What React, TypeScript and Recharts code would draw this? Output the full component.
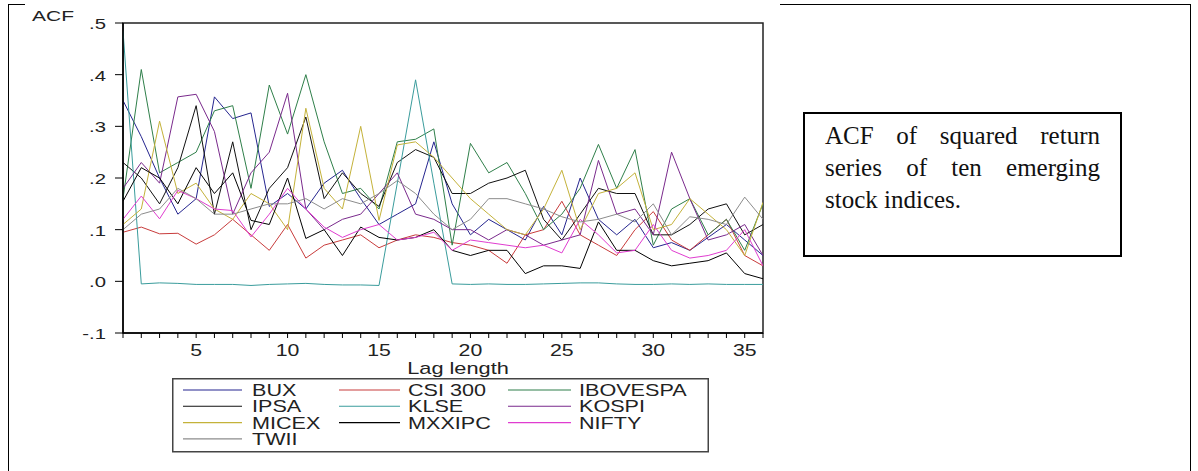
import React from "react";
import { LineChart, Line, XAxis, YAxis, ReferenceArea, Legend } from "recharts";

const lags = [
  1, 2, 3, 4, 5, 6, 7, 8, 9, 10, 11, 12, 13, 14, 15, 16, 17, 18,
  19, 20, 21, 22, 23, 24, 25, 26, 27, 28, 29, 30, 31, 32, 33, 34, 35, 36,
];
const yTicks = [-0.1, 0, 0.1, 0.2, 0.3, 0.4, 0.5];

const seriesNames = [
  "BUX", "CSI 300", "IBOVESPA", "IPSA", "KLSE",
  "KOSPI", "MICEX", "MXXIPC", "NIFTY", "TWII",
];
const seriesColors = [
  "#25258f", "#c83c3c", "#2f7f4a", "#111111", "#3a9c9c",
  "#7a2a8c", "#c4b23a", "#000000", "#e03cd0", "#8c8c8c",
];

const bux = [0.35, 0.28, 0.2, 0.13, 0.16, 0.357, 0.315, 0.326, 0.145, 0.17, 0.14, 0.19, 0.215, 0.16, 0.11, 0.13, 0.15, 0.27, 0.15, 0.09, 0.12, 0.1, 0.08, 0.145, 0.09, 0.2, 0.12, 0.09, 0.12, 0.065, 0.075, 0.06, 0.085, 0.11, 0.08, 0.05];
const csi300 = [0.095, 0.105, 0.092, 0.093, 0.072, 0.09, 0.12, 0.09, 0.06, 0.11, 0.045, 0.07, 0.08, 0.09, 0.065, 0.08, 0.09, 0.085, 0.075, 0.07, 0.06, 0.035, 0.09, 0.1, 0.155, 0.09, 0.07, 0.05, 0.1, 0.135, 0.08, 0.06, 0.09, 0.12, 0.05, 0.03];
const ibovespa = [0.16, 0.41, 0.21, 0.23, 0.25, 0.33, 0.34, 0.18, 0.38, 0.285, 0.4, 0.27, 0.17, 0.18, 0.14, 0.27, 0.275, 0.295, 0.07, 0.267, 0.21, 0.23, 0.17, 0.1, 0.13, 0.18, 0.265, 0.18, 0.255, 0.07, 0.14, 0.16, 0.09, 0.12, 0.06, 0.15];
const ipsa = [0.23, 0.2, 0.15, 0.22, 0.34, 0.13, 0.27, 0.1, 0.18, 0.22, 0.318, 0.16, 0.21, 0.17, 0.145, 0.23, 0.255, 0.24, 0.17, 0.17, 0.19, 0.2, 0.215, 0.12, 0.08, 0.13, 0.18, 0.17, 0.17, 0.09, 0.09, 0.11, 0.14, 0.15, 0.09, 0.11];
const klse = [0.485, -0.005, -0.003, -0.004, -0.006, -0.006, -0.006, -0.008, -0.006, -0.005, -0.004, -0.006, -0.007, -0.007, -0.008, 0.19, 0.39, 0.19, -0.005, -0.006, -0.005, -0.006, -0.006, -0.005, -0.004, -0.003, -0.003, -0.005, -0.006, -0.006, -0.005, -0.006, -0.005, -0.006, -0.006, -0.006];
const kospi = [0.18, 0.23, 0.19, 0.357, 0.362, 0.29, 0.13, 0.21, 0.25, 0.364, 0.14, 0.1, 0.12, 0.13, 0.17, 0.21, 0.13, 0.12, 0.1, 0.1, 0.08, 0.1, 0.09, 0.07, 0.08, 0.09, 0.234, 0.13, 0.14, 0.09, 0.25, 0.16, 0.08, 0.09, 0.11, 0.05];
const micex = [0.11, 0.14, 0.31, 0.17, 0.19, 0.14, 0.12, 0.17, 0.15, 0.1, 0.335, 0.18, 0.14, 0.3, 0.118, 0.264, 0.27, 0.24, 0.2, 0.16, 0.13, 0.1, 0.09, 0.14, 0.215, 0.1, 0.17, 0.18, 0.21, 0.1, 0.11, 0.16, 0.13, 0.1, 0.05, 0.153];
const mxxipc = [0.155, 0.22, 0.2, 0.15, 0.22, 0.17, 0.21, 0.118, 0.11, 0.2, 0.083, 0.1, 0.05, 0.105, 0.085, 0.08, 0.085, 0.1, 0.06, 0.05, 0.06, 0.06, 0.015, 0.03, 0.03, 0.025, 0.115, 0.06, 0.06, 0.04, 0.03, 0.035, 0.04, 0.055, 0.015, 0.005];
const nifty = [0.12, 0.165, 0.121, 0.176, 0.16, 0.14, 0.137, 0.086, 0.13, 0.18, 0.14, 0.105, 0.085, 0.1, 0.11, 0.08, 0.085, 0.095, 0.06, 0.08, 0.075, 0.07, 0.065, 0.07, 0.055, 0.12, 0.09, 0.055, 0.06, 0.11, 0.06, 0.045, 0.05, 0.06, 0.1, 0.03];
const twii = [0.1, 0.13, 0.14, 0.18, 0.16, 0.13, 0.13, 0.14, 0.15, 0.15, 0.16, 0.14, 0.16, 0.15, 0.17, 0.195, 0.17, 0.13, 0.1, 0.12, 0.16, 0.16, 0.15, 0.14, 0.125, 0.115, 0.12, 0.13, 0.115, 0.15, 0.09, 0.125, 0.12, 0.11, 0.163, 0.12];

const seriesValues = [bux, csi300, ibovespa, ipsa, klse, kospi, micex, mxxipc, nifty, twii];

const data = lags.map((lag, i) => {
  const row: Record<string, number> = { lag };
  seriesNames.forEach((name, s) => {
    row[name] = seriesValues[s][i];
  });
  return row;
});

const SANS = "'Liberation Sans', Arial, sans-serif";
const SERIF = "'Liberation Serif', 'Times New Roman', serif";
const TXT = "#222";

function fmtY(v: number) {
  return v.toFixed(1).replace("0.", ".");
}

function XTick(props: any) {
  const { x, y, payload } = props;
  if (payload.value % 5 !== 0) return null;
  return (
    <text
      transform={`translate(${x},${y + 16}) scale(1.33,1)`}
      textAnchor="middle"
      fontSize={16}
      fontFamily={SANS}
      fill={TXT}
    >
      {payload.value}
    </text>
  );
}

function YTick(props: any) {
  const { x, y, payload } = props;
  return (
    <text
      transform={`translate(${x - 7},${y + 6}) scale(1.45,1)`}
      textAnchor="end"
      fontSize={14}
      fontFamily={SANS}
      fill={TXT}
    >
      {fmtY(payload.value)}
    </text>
  );
}

function XLabel(props: any) {
  const vb = props.viewBox;
  return (
    <text
      transform={`translate(${vb.x + vb.width / 2 + 15},${vb.y + 41}) scale(1.36,1)`}
      textAnchor="middle"
      fontSize={16}
      fontFamily={SANS}
      fill={TXT}
    >
      Lag length
    </text>
  );
}

function YLabel(props: any) {
  const vb = props.viewBox;
  return (
    <text
      transform={`translate(${vb.x + 32},${vb.y - 2}) scale(1.5,1)`}
      fontSize={14}
      fontFamily={SANS}
      fill={TXT}
    >
      ACF
    </text>
  );
}

function LegendBox(props: any) {
  const payload = [...(props.payload || [])].sort(
    (a: any, b: any) => seriesNames.indexOf(a.value) - seriesNames.indexOf(b.value)
  );
  const lineStart = [11, 167, 336];
  const lineEnd = [70, 228, 399];
  const textX = [80, 236, 407];
  return (
    <svg width={537} height={75} style={{ display: "block" }}>
      <rect x={0.75} y={0.75} width={535.5} height={73} fill="#fff" stroke="#444" strokeWidth={1.5} />
      {payload.map((p: any, i: number) => {
        const col = i % 3;
        const row = Math.floor(i / 3);
        const ly = 12 + row * 16.3;
        return (
          <g key={p.value}>
            <line x1={lineStart[col]} x2={lineEnd[col]} y1={ly} y2={ly} stroke={p.color} strokeWidth={1.1} />
            <text
              transform={`translate(${textX[col]},${ly + 6}) scale(1.35,1)`}
              fontSize={16}
              fontFamily={SANS}
              fill={TXT}
            >
              {p.value}
            </text>
          </g>
        );
      })}
    </svg>
  );
}

const justified = { textAlign: "justify" as const, textAlignLast: "justify" as const };

export default function App() {
  return (
    <div style={{ position: "absolute", left: 0, top: 0, width: 1198, height: 471, background: "#fff" }}>
      {/* table cell borders */}
      <div style={{ position: "absolute", left: 8, top: 4, width: 1, height: 467, background: "#000" }} />
      <div style={{ position: "absolute", left: 8, top: 4, width: 17, height: 1, background: "#000" }} />
      <div style={{ position: "absolute", left: 780, top: 4, width: 411, height: 1, background: "#000" }} />
      <div style={{ position: "absolute", left: 1190, top: 4, width: 1, height: 467, background: "#000" }} />

      <div style={{ position: "absolute", left: 0, top: 0 }}>
        <LineChart width={780} height={471} data={data} margin={{ top: 23, right: 17, bottom: 108, left: 0 }}>
          <XAxis
            dataKey="lag"
            type="number"
            domain={[1, 36]}
            ticks={lags}
            interval={0}
            allowDataOverflow
            tickSize={5}
            tick={<XTick />}
            axisLine={{ stroke: "#000", strokeWidth: 1.5 }}
            tickLine={{ stroke: "#000" }}
            height={30}
            label={<XLabel />}
          />
          <YAxis
            type="number"
            domain={[-0.1, 0.5]}
            ticks={yTicks}
            interval={0}
            allowDataOverflow
            tickSize={8}
            tick={<YTick />}
            axisLine={{ stroke: "#000", strokeWidth: 1.5 }}
            tickLine={{ stroke: "#000" }}
            width={123}
            label={<YLabel />}
          />
          <ReferenceArea x1={1} x2={36} y1={-0.1} y2={0.5} fill="none" stroke="#222" strokeWidth={1.5} ifOverflow="visible" />
          {seriesNames.map((name, s) => (
            <Line
              key={name}
              type="linear"
              dataKey={name}
              name={name}
              stroke={seriesColors[s]}
              strokeWidth={1}
              dot={false}
              isAnimationActive={false}
            />
          ))}
          <Legend
            layout="horizontal"
            verticalAlign="middle"
            align="center"
            content={<LegendBox />}
            wrapperStyle={{ left: 172, top: 378, width: 537, height: 75 }}
          />
        </LineChart>
      </div>

      {/* caption box */}
      <div
        style={{
          position: "absolute",
          left: 803,
          top: 112,
          width: 275,
          height: 135,
          border: "2px solid #000",
          padding: "6px 20px 0 20px",
          boxSizing: "content-box",
          fontFamily: SERIF,
          fontSize: 25,
          lineHeight: "32px",
          color: "#111",
        }}
      >
        <div style={justified}>ACF of squared return</div>
        <div style={justified}>series of ten emerging</div>
        <div>stock indices.</div>
      </div>
    </div>
  );
}
